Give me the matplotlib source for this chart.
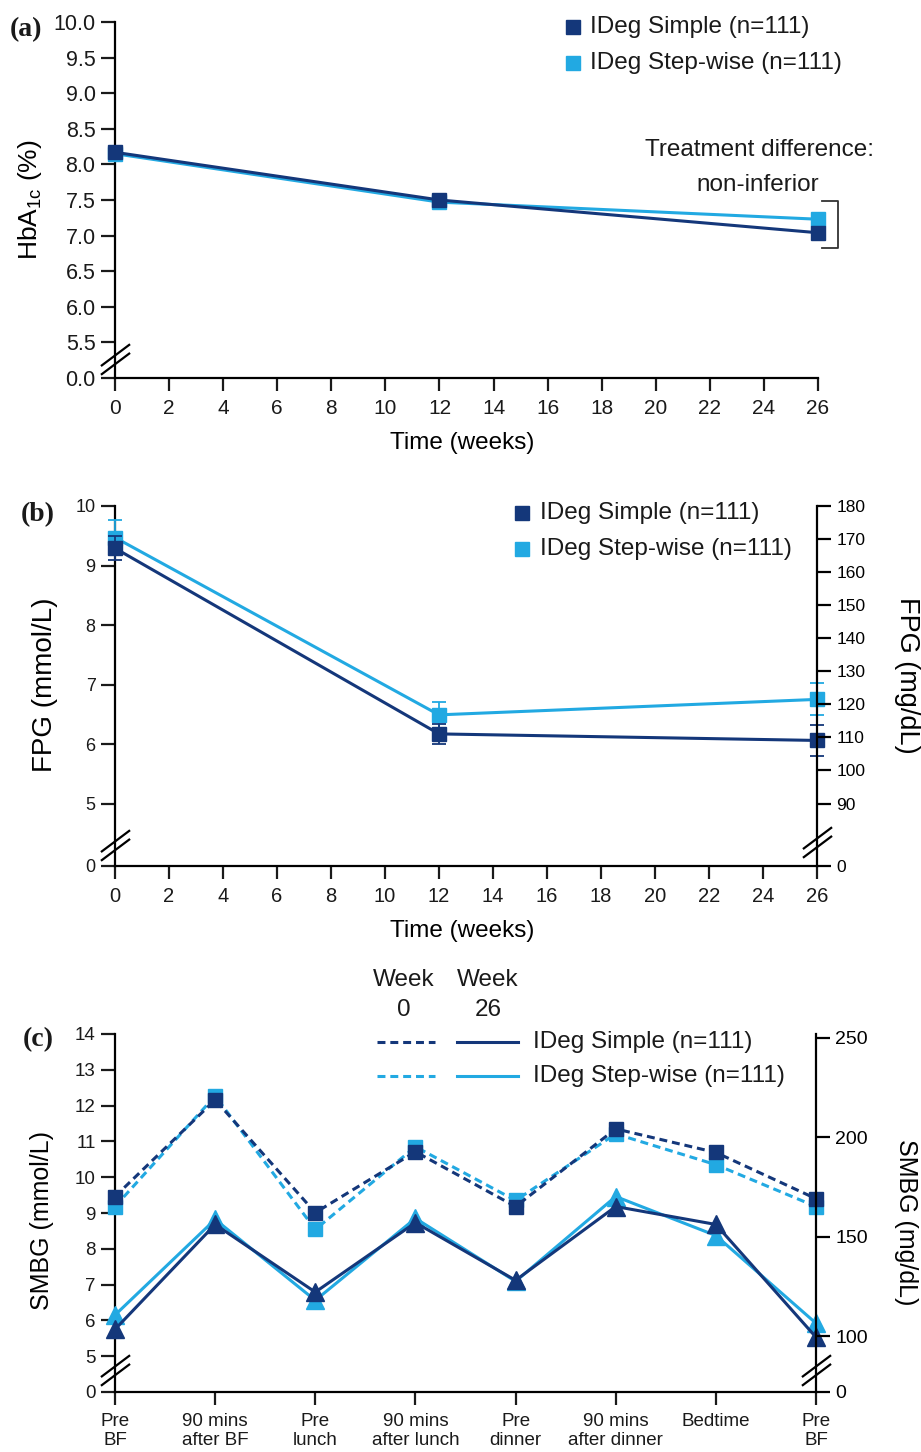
import matplotlib
matplotlib.use("Agg")
import matplotlib.pyplot as plt
from matplotlib.lines import Line2D
from matplotlib.path import Path

plt.rcParams['font.family'] = ['Liberation Sans', 'DejaVu Sans']
plt.rcParams['mathtext.default'] = 'regular'
plt.rcParams['text.color'] = '#1a1a1a'

# ---- data ----
weeks = [0, 12, 26]
hba1c_simple = [8.17, 7.50, 7.04]
hba1c_stepwise = [8.15, 7.47, 7.23]

fpg_simple = [9.29, 6.17, 6.06]
fpg_simple_err = [0.20, 0.17, 0.26]
fpg_stepwise = [9.47, 6.49, 6.75]
fpg_stepwise_err = [0.30, 0.22, 0.27]

smbg_times = ["Pre\nBF", "90 mins\nafter BF", "Pre\nlunch", "90 mins\nafter lunch",
              "Pre\ndinner", "90 mins\nafter dinner", "Bedtime", "Pre\nBF"]
smbg_simple_wk0 = [9.46, 12.16, 9.01, 10.71, 9.18, 11.35, 10.69, 9.40]
smbg_stepwise_wk0 = [9.18, 12.27, 8.54, 10.85, 9.35, 11.21, 10.35, 9.18]
smbg_simple_wk26 = [5.75, 8.68, 6.79, 8.73, 7.12, 9.18, 8.68, 5.53]
smbg_stepwise_wk26 = [6.15, 8.82, 6.56, 8.85, 7.09, 9.46, 8.37, 5.92]

DARK = '#14377a'
LIGHT = '#22a9e2'
W, H = 921, 1452
BIG = 17.5

fig = plt.figure(figsize=(W / 100, H / 100), dpi=100)


def px_axes(l, t, r, b):
    return fig.add_axes([l / W, 1 - b / H, (r - l) / W, (b - t) / H])


def style(ax, xsize, ysize):
    for s in ['top', 'right']:
        ax.spines[s].set_visible(False)
    for s in ['left', 'bottom']:
        ax.spines[s].set_linewidth(1.6)
    ax.tick_params(length=10, width=1.6, pad=4, colors='#1a1a1a')
    ax.tick_params(axis='y', labelsize=ysize)
    ax.tick_params(axis='x', length=9, pad=6, labelsize=xsize)


def right_axis(ax, size):
    ax2 = ax.twinx()
    for s in ['top', 'left', 'bottom']:
        ax2.spines[s].set_visible(False)
    ax2.spines['right'].set_linewidth(1.6)
    ax2.tick_params(length=10, width=1.6, labelsize=size, pad=4)
    return ax2


# two slanted strokes for the axis break
brk = Path([(-1, -0.45), (1, 1.05), (-1, -1.05), (1, 0.45)],
           [Path.MOVETO, Path.LINETO, Path.MOVETO, Path.LINETO])


def axis_break(ax, x, y):
    ax.plot([x], [y], marker=brk, ms=22, mec='k', mew=1.6, ls='none',
            clip_on=False, zorder=6)


def fig_line(x0, x1, y, **kw):
    fig.add_artist(Line2D([x0 / W, x1 / W], [1 - y / H] * 2, transform=fig.transFigure, **kw))


def fig_marker(x, y, **kw):
    fig.add_artist(Line2D([x / W], [1 - y / H], transform=fig.transFigure, ls='none', **kw))


def fig_text(x, y, s, **kw):
    fig.text(x / W, 1 - y / H, s, **kw)


def panel_label(x, y, s):
    fig_text(x, y, s, fontsize=20, fontweight='bold', family='Liberation Serif', va='center')


# ================= (a) HbA1c =================
ax = px_axes(115, 22, 818, 378)
style(ax, 15, 15.5)
ax.plot(weeks, hba1c_stepwise, color=LIGHT, lw=2.2, marker='s', ms=10, clip_on=False, zorder=3)
ax.plot(weeks, hba1c_simple, color=DARK, lw=2.2, marker='s', ms=10, clip_on=False, zorder=4)
ax.set_xlim(0, 26)
ax.set_ylim(5.0, 10.0)
ax.set_xticks(range(0, 27, 2))
yt = [5.0] + [5.5 + 0.5 * i for i in range(10)]
ax.set_yticks(yt)
ax.set_yticklabels(['0.0'] + ['%.1f' % v for v in yt[1:]])
axis_break(ax, 0, 5.26)
ax.set_xlabel('Time (weeks)', fontsize=BIG)
ax.xaxis.set_label_coords(0.494, -0.152)
ax.set_ylabel(r'HbA$_{1c}$ (%)', fontsize=19)
ax.yaxis.set_label_coords(-0.101, 0.5)

# treatment difference bracket
bx0, bx1 = 26.15, 26.75
btop = hba1c_stepwise[-1] + 0.26
bbot = hba1c_simple[-1] - 0.21
ax.plot([bx0, bx1, bx1, bx0], [btop, btop, bbot, bbot], color='#333333', lw=1.3, clip_on=False)
fig_text(874, 150, 'Treatment difference:', fontsize=BIG, ha='right', va='center')
fig_text(819, 185, 'non-inferior', fontsize=BIG, ha='right', va='center')

panel_label(10, 30, '(a)')
for i, (c, lab) in enumerate([(DARK, 'IDeg Simple (n=111)'), (LIGHT, 'IDeg Step-wise (n=111)')]):
    y = 27 + 36 * i
    fig_marker(573, y, marker='s', ms=9.5, color=c)
    fig_text(590, y, lab, fontsize=BIG, va='center')

# ================= (b) FPG =================
ax = px_axes(115, 506, 817, 866)
style(ax, 14.5, 13)
ax.errorbar(weeks, fpg_stepwise, yerr=fpg_stepwise_err, color=LIGHT, lw=2.2, elinewidth=1.3,
            capsize=5, capthick=1.3, marker='s', ms=10, clip_on=False, zorder=3)
ax.errorbar(weeks, fpg_simple, yerr=fpg_simple_err, color=DARK, lw=2.2, elinewidth=1.3,
            capsize=5, capthick=1.3, marker='s', ms=10, clip_on=False, zorder=4)
y0b = 3.95
ax.set_xlim(0, 26)
ax.set_ylim(y0b, 10)
ax.set_xticks(range(0, 27, 2))
ax.set_yticks([y0b] + list(range(5, 11)))
ax.set_yticklabels(['0'] + [str(v) for v in range(5, 11)])
axis_break(ax, 0, 4.31)
ax.set_xlabel('Time (weeks)', fontsize=BIG)
ax.xaxis.set_label_coords(0.494, -0.15)
ax.set_ylabel('FPG (mmol/L)', fontsize=20)
ax.yaxis.set_label_coords(-0.081, 0.503)

ax2 = right_axis(ax, 12.5)
ax2.set_ylim(y0b, 10)
mg_b = list(range(90, 181, 10))
ax2.set_yticks([y0b] + [v / 18 for v in mg_b])
ax2.set_yticklabels(['0'] + [str(v) for v in mg_b])
ax2.set_ylabel('FPG (mg/dL)', fontsize=19.5, rotation=270)
ax2.yaxis.set_label_coords(1.147, 0.53)
ax2.plot([26], [4.36], marker=brk, ms=22, mec='k', mew=1.6, ls='none', clip_on=False, zorder=6)
ax2.set_xlim(0, 26)

panel_label(21, 515, '(b)')
for i, (c, lab) in enumerate([(DARK, 'IDeg Simple (n=111)'), (LIGHT, 'IDeg Step-wise (n=111)')]):
    y = 513 + 36 * i
    fig_marker(522, y, marker='s', ms=9.5, color=c)
    fig_text(540, y, lab, fontsize=BIG, va='center')

# ================= (c) SMBG =================
ax = px_axes(115, 1034, 816, 1392)
style(ax, 13.5, 13.5)
xs = list(range(len(smbg_times)))
dash = (2.6, 1.6)
ax.plot(xs, smbg_stepwise_wk0, color=LIGHT, lw=2.2, dashes=dash, marker='s', ms=10, clip_on=False, zorder=3)
ax.plot(xs, smbg_simple_wk0, color=DARK, lw=2.2, dashes=dash, marker='s', ms=10, clip_on=False, zorder=4)
ax.plot(xs, smbg_stepwise_wk26, color=LIGHT, lw=2.2, marker='^', ms=12.5, clip_on=False, zorder=3)
ax.plot(xs, smbg_simple_wk26, color=DARK, lw=2.2, marker='^', ms=12.5, clip_on=False, zorder=4)
y0c = 4.0
ax.set_xlim(0, 7)
ax.set_ylim(y0c, 14)
ax.set_xticks(xs)
ax.set_xticklabels(smbg_times, linespacing=1.2, va='top')
ax.set_yticks([y0c] + list(range(5, 15)))
ax.set_yticklabels(['0'] + [str(v) for v in range(5, 15)])
axis_break(ax, 0, 4.62)
ax.set_ylabel('SMBG (mmol/L)', fontsize=18)
ax.yaxis.set_label_coords(-0.087, 0.48)

ax2 = right_axis(ax, 14)
ax2.set_ylim(y0c, 14)
mg_c = [100, 150, 200, 250]
ax2.set_yticks([y0c] + [v / 18 for v in mg_c])
ax2.set_yticklabels(['0'] + [str(v) for v in mg_c])
ax2.set_ylabel('SMBG (mg/dL)', fontsize=18, rotation=270)
ax2.yaxis.set_label_coords(1.146, 0.475)
ax2.plot([7], [4.62], marker=brk, ms=22, mec='k', mew=1.6, ls='none', clip_on=False, zorder=6)
ax2.set_xlim(0, 7)

panel_label(23, 1040, '(c)')
fig_text(404, 980, 'Week', fontsize=BIG, ha='center', va='center')
fig_text(404, 1010, '0', fontsize=BIG, ha='center', va='center')
fig_text(488, 980, 'Week', fontsize=BIG, ha='center', va='center')
fig_text(488, 1010, '26', fontsize=BIG, ha='center', va='center')
for i, (c, lab) in enumerate([(DARK, 'IDeg Simple (n=111)'), (LIGHT, 'IDeg Step-wise (n=111)')]):
    y = 1042 + 34 * i
    fig_line(377, 435, y, color=c, lw=2.2, dashes=dash)
    fig_line(457, 518, y, color=c, lw=2.2)
    fig_text(533, y, lab, fontsize=BIG, va='center')

fig.savefig('out.png', dpi=100)
